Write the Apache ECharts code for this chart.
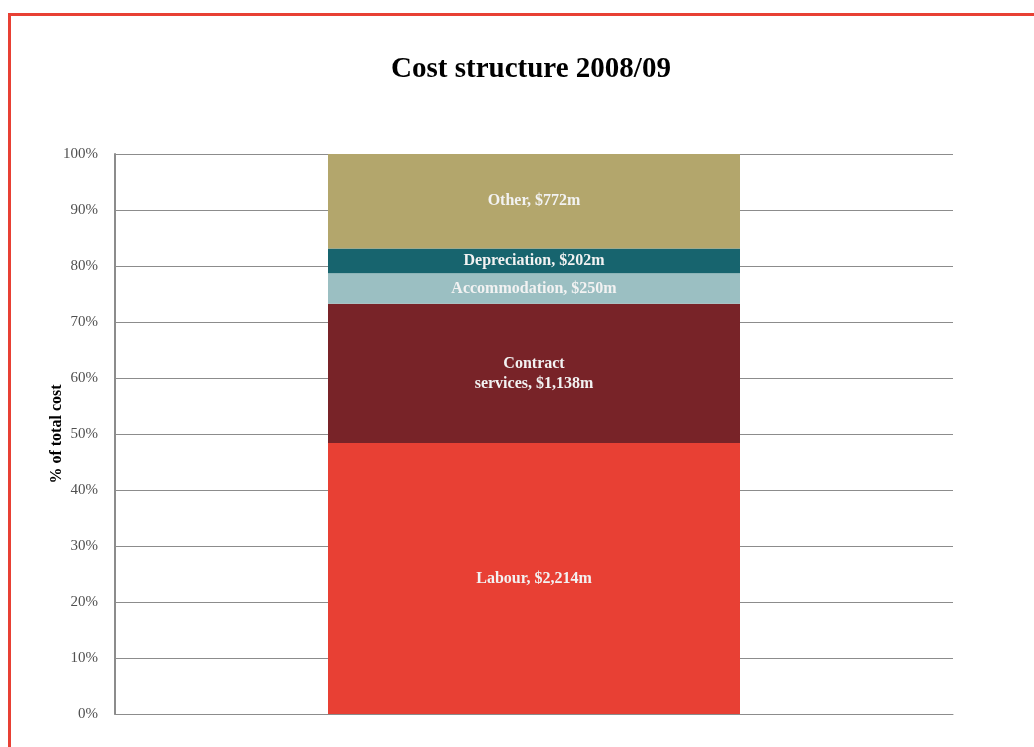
<!DOCTYPE html>
<html>
<head>
<meta charset="utf-8">
<script src="https://cdn.jsdelivr.net/npm/echarts@6/dist/echarts.min.js"></script>
<style>
  html, body { margin: 0; padding: 0; background: #fff; }
  #frame {
    position: absolute; left: 8px; top: 13px; width: 1040px; height: 760px;
    border: 3px solid #e84034; box-sizing: border-box;
  }
  #chart { position: absolute; left: 0; top: 0; width: 1034px; height: 747px; }
</style>
</head>
<body>
<div id="frame"></div>
<div id="chart"></div>
<script>
// Cost components, bottom to top, in $ millions
const categories = ['2008/09'];
const seriesNames = ['Labour', 'Contract\nservices', 'Accommodation', 'Depreciation', 'Other'];
const seriesValues = [2214, 1138, 250, 202, 772];
const seriesColors = ['#e84034', '#782328', '#9bbfc2', '#17646e', '#b3a66c'];
const yTicks = [0, 10, 20, 30, 40, 50, 60, 70, 80, 90, 100];

const total = seriesValues.reduce((a, b) => a + b, 0);
const serif = '"Liberation Serif", "DejaVu Serif", serif';

const series = seriesNames.map((name, i) => ({
  name: name,
  type: 'bar',
  stack: 'cost',
  barWidth: 412,
  data: [seriesValues[i] / total * 100],
  itemStyle: { color: seriesColors[i] },
  label: {
    show: true,
    position: 'inside',
    color: '#f2f2f2',
    fontFamily: serif,
    fontWeight: 'bold',
    fontSize: 16,
    lineHeight: 20,
    formatter: () => name + ', $' + seriesValues[i].toLocaleString('en-US') + 'm'
  }
}));

const chart = echarts.init(document.getElementById('chart'));
chart.setOption({
  animation: false,
  title: {
    text: 'Cost structure 2008/09',
    left: 526, top: 50, textAlign: 'center',
    textStyle: { fontFamily: serif, fontWeight: 'bold', fontSize: 29, color: '#000' }
  },
  grid: { left: 115, right: 81, top: 154, bottom: 33 },
  xAxis: {
    type: 'category',
    data: categories,
    axisLabel: { show: false },
    axisTick: { show: false },
    axisLine: { lineStyle: { color: '#8c8c8c', width: 1 } }
  },
  yAxis: {
    type: 'value',
    min: yTicks[0], max: yTicks[yTicks.length - 1], interval: 10,
    name: '% of total cost',
    nameLocation: 'middle',
    nameGap: 50,
    nameMoveOverlap: false,
    nameTextStyle: { fontFamily: serif, fontWeight: 'bold', fontSize: 16, color: '#000' },
    axisLine: { show: true, lineStyle: { color: '#8c8c8c', width: 2 } },
    axisTick: { show: false },
    axisLabel: { fontFamily: serif, fontSize: 15, color: '#505050', margin: 17, formatter: '{value}%' },
    splitLine: { lineStyle: { color: '#8c8c8c', width: 1 } }
  },
  series: series
});
</script>
</body>
</html>
